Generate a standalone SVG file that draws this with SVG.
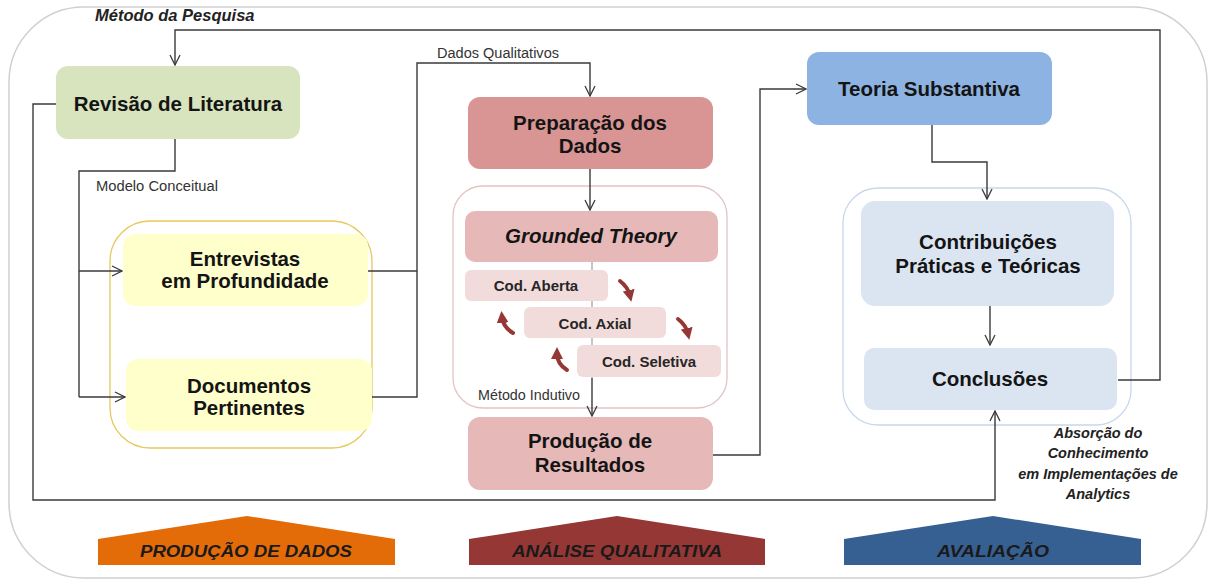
<svg xmlns="http://www.w3.org/2000/svg" width="1214" height="586" viewBox="0 0 1214 586">
  <style>
    .lbl { font-family: "Liberation Sans", Arial, sans-serif; font-weight: bold; font-size: 20.5px; fill: #141414; text-anchor: middle; }
    .cod { font-family: "Liberation Sans", Arial, sans-serif; font-weight: bold; font-size: 15px; fill: #262626; text-anchor: middle; }
    .note { font-family: "Liberation Sans", Arial, sans-serif; font-size: 14px; fill: #333; }
    .bi { font-family: "Liberation Sans", Arial, sans-serif; font-weight: bold; font-style: italic; fill: #222; }
    .phase { font-family: "Liberation Sans", Arial, sans-serif; font-style: italic; font-weight: bold; font-size: 16px; fill: #1a1a1a; text-anchor: middle; }
    .conn { fill: none; stroke: #3a3a3a; stroke-width: 1.4; }
    .cycle { fill: none; stroke: #953735; stroke-width: 4; stroke-linecap: round; }
  </style>
  <defs>
    <marker id="open" viewBox="0 0 12 12" refX="11" refY="6" markerWidth="12" markerHeight="12" markerUnits="userSpaceOnUse" orient="auto">
      <path d="M1,1 L11,6 L1,11" fill="none" stroke="#3a3a3a" stroke-width="1.3"/>
    </marker>
    <marker id="redhead" viewBox="0 0 10 10" refX="5" refY="5" markerWidth="3" markerHeight="3" orient="auto">
      <path d="M0,0 L10,5 L0,10 Z" fill="#953735"/>
    </marker>
  </defs>

  <rect width="1214" height="586" fill="#ffffff"/>

  <!-- outer frame -->
  <rect id="frame" x="9" y="7" width="1198" height="571" rx="75" ry="75" fill="none" stroke="#d0d0d0" stroke-width="1.5"/>
  <text class="bi" x="95" y="21" font-size="16.5">Método da Pesquisa</text>

  <!-- group containers -->
  <rect id="grupo-dados" x="110" y="221" width="262" height="227" rx="40" fill="none" stroke="#e6c95a" stroke-width="1.3"/>
  <rect id="grupo-analise" x="453" y="186" width="274" height="222" rx="30" fill="none" stroke="#e3c4c4" stroke-width="1.3"/>
  <rect id="grupo-avaliacao" x="843" y="188" width="288" height="237" rx="35" fill="none" stroke="#c9d8ea" stroke-width="1.3"/>

  <!-- connectors -->
  <g id="connectors">
    <path class="conn" d="M1118,380 H1160 V30 H175 V65" marker-end="url(#open)"/>
    <path class="conn" d="M56,104 H33 V500 H995 V411" marker-end="url(#open)"/>
    <path class="conn" d="M175,139 V171 H79 V397"/>
    <path class="conn" d="M79,271 H122" marker-end="url(#open)"/>
    <path class="conn" d="M79,397 H125" marker-end="url(#open)"/>
    <path class="conn" d="M368,271 H417"/>
    <path class="conn" d="M372,397 H417 V63 H590 V96" marker-end="url(#open)"/>
    <path class="conn" d="M590,169 V210" marker-end="url(#open)"/>
    <path d="M592,262 V378" fill="none" stroke="#8a8a8a" stroke-width="1"/>
    <path class="conn" d="M592,378 V416" marker-end="url(#open)"/>
    <path class="conn" d="M713,455 H760 V89 H806" marker-end="url(#open)"/>
    <path class="conn" d="M932,125 V162 H987 V199" marker-end="url(#open)"/>
    <path class="conn" d="M990,306 V345" marker-end="url(#open)"/>
    <text class="note" x="437" y="58" textLength="122" lengthAdjust="spacingAndGlyphs">Dados Qualitativos</text>
    <text class="note" x="96" y="191" textLength="122" lengthAdjust="spacingAndGlyphs">Modelo Conceitual</text>
    <text class="note" x="478" y="400" textLength="102" lengthAdjust="spacingAndGlyphs">Método Indutivo</text>
  </g>

  <g id="revisao">
    <rect x="56" y="66" width="244" height="73" rx="12" fill="#d7e4bd"/>
    <text class="lbl" x="178" y="111">Revisão de Literatura</text>
  </g>

  <g id="entrevistas">
    <rect x="123" y="234" width="245" height="72" rx="12" fill="#ffffcc"/>
    <text class="lbl" x="245" y="266" font-size="17">Entrevistas</text>
    <text class="lbl" x="245" y="288" font-size="17">em Profundidade</text>
  </g>

  <g id="documentos">
    <rect x="126" y="359" width="246" height="72" rx="12" fill="#ffffcc"/>
    <text class="lbl" x="249" y="393" font-size="17">Documentos</text>
    <text class="lbl" x="249" y="415" font-size="17">Pertinentes</text>
  </g>

  <g id="preparacao">
    <rect x="468" y="97" width="245" height="72" rx="12" fill="#d99594"/>
    <text class="lbl" x="590" y="130">Preparação dos</text>
    <text class="lbl" x="590" y="153">Dados</text>
  </g>

  <g id="grounded">
    <rect x="465" y="211" width="253" height="51" rx="10" fill="#e6b9b8"/>
    <text class="lbl" x="591" y="243" font-size="18" font-style="italic">Grounded Theory</text>
  </g>

  <g id="cod-aberta">
    <rect x="465" y="270" width="143" height="31" rx="6" fill="#f2dcdb"/>
    <text class="cod" x="536" y="291">Cod. Aberta</text>
  </g>
  <g id="cod-axial">
    <rect x="524" y="307" width="142" height="31" rx="6" fill="#f2dcdb"/>
    <text class="cod" x="595" y="329">Cod. Axial</text>
  </g>
  <g id="cod-seletiva">
    <rect x="577" y="345" width="144" height="32" rx="6" fill="#f2dcdb"/>
    <text class="cod" x="649" y="367">Cod. Seletiva</text>
  </g>

  <!-- coding cycle arrows -->
  <g id="ciclo">
    <path class="cycle" d="M620,281 Q628,287 630,296" marker-end="url(#redhead)"/>
    <path class="cycle" d="M678,319 Q686,325 688,334" marker-end="url(#redhead)"/>
    <path class="cycle" d="M513,333 Q503,327 502,317" marker-end="url(#redhead)"/>
    <path class="cycle" d="M567,370 Q557,364 557,353" marker-end="url(#redhead)"/>
  </g>

  <g id="producao">
    <rect x="468" y="417" width="245" height="73" rx="12" fill="#e6b9b8"/>
    <text class="lbl" x="590" y="448" font-size="21">Produção de</text>
    <text class="lbl" x="590" y="472" font-size="21">Resultados</text>
  </g>

  <g id="teoria">
    <rect x="807" y="52" width="245" height="73" rx="12" fill="#8db3e2"/>
    <text class="lbl" x="929" y="96">Teoria Substantiva</text>
  </g>

  <g id="contribuicoes">
    <rect x="861" y="201" width="253" height="105" rx="14" fill="#dbe5f1"/>
    <text class="lbl" x="988" y="249">Contribuições</text>
    <text class="lbl" x="988" y="273">Práticas e Teóricas</text>
  </g>

  <g id="conclusoes">
    <rect x="864" y="348" width="253" height="62" rx="10" fill="#dbe5f1"/>
    <text class="lbl" x="990" y="386">Conclusões</text>
  </g>

  <g id="absorcao">
    <text class="bi" font-size="14.5" text-anchor="middle" x="1098" y="438">Absorção do</text>
    <text class="bi" font-size="14.5" text-anchor="middle" x="1098" y="458">Conhecimento</text>
    <text class="bi" font-size="14.5" text-anchor="middle" x="1098" y="479">em Implementações  de</text>
    <text class="bi" font-size="14.5" text-anchor="middle" x="1098" y="499">Analytics</text>
  </g>

  <!-- phase banners -->
  <g id="fase-producao">
    <polygon points="98,539 247,516 395,539 395,565 98,565" fill="#e36c09"/>
    <text class="phase" x="246" y="557" textLength="212" lengthAdjust="spacingAndGlyphs">PRODUÇÃO DE DADOS</text>
  </g>
  <g id="fase-analise">
    <polygon points="469,539 617,516 765,539 765,565 469,565" fill="#953735"/>
    <text class="phase" x="617" y="557" textLength="210" lengthAdjust="spacingAndGlyphs">ANÁLISE QUALITATIVA</text>
  </g>
  <g id="fase-avaliacao">
    <polygon points="844,539 993,516 1141,539 1141,565 844,565" fill="#376092"/>
    <text class="phase" x="993" y="557" textLength="112" lengthAdjust="spacingAndGlyphs">AVALIAÇÃO</text>
  </g>
</svg>
